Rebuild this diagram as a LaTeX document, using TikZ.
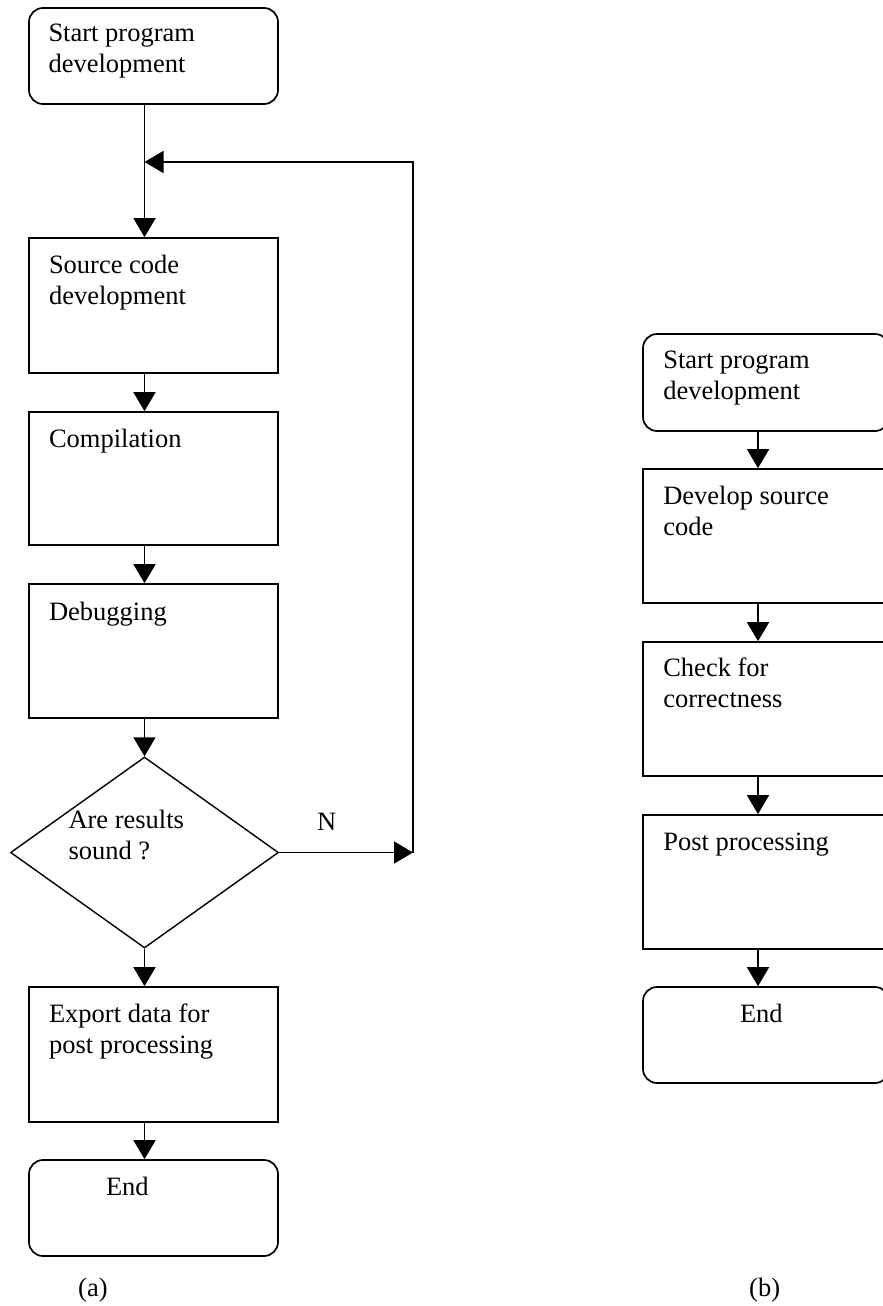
\documentclass[tikz,border=0pt]{standalone}
\usepackage{fontspec}
\setmainfont{Liberation Serif}
\usetikzlibrary{shapes.geometric,arrows.meta}
% zero-size text anchor: #1 = shift right, #2 = raise of first baseline, #3 = lines
\newcommand\boxtxt[3]{\rlap{\hspace*{#1}\raisebox{#2}[0pt][0pt]{\begin{tabular}[t]{@{}l@{}}#3\end{tabular}}}}
\begin{document}
\begin{tikzpicture}[x=1pt,y=-1pt,
  font=\fontsize{26.5}{31}\selectfont,
  box/.style={draw, line width=1.7pt, rectangle, inner sep=0pt},
  rbox/.style={box, rounded corners=14pt},
  dec/.style={draw, line width=1.4pt, diamond, inner sep=0pt},
  arr/.style={line width=1.7pt, -{Triangle[length=19pt,width=22pt]}},
  lbl/.style={inner sep=0pt, anchor=base west}]
\useasboundingbox (0,0) rectangle (883,1306);

% ---------- (a) ----------
\node[rbox, minimum width=249pt, minimum height=96pt] (s1) at (153.5,56)
  {\boxtxt{-105pt}{14pt}{Start program\\development}};
\node[box, minimum width=249pt, minimum height=135pt] (src) at (153.5,305.5)
  {\boxtxt{-104.5pt}{32.5pt}{Source code\\development}};
\node[box, minimum width=249pt, minimum height=133pt] (comp) at (153.5,478.5)
  {\boxtxt{-104.5pt}{31.5pt}{Compilation}};
\node[box, minimum width=249pt, minimum height=134pt] (dbg) at (153.5,651)
  {\boxtxt{-104.5pt}{31pt}{Debugging}};
\node[dec, minimum width=268pt, minimum height=191pt] (dia) at (144.5,852.5)
  {\boxtxt{-76pt}{24.5pt}{Are results\\sound ?}};
\node[box, minimum width=249pt, minimum height=135pt] (exp) at (153.5,1054.5)
  {\boxtxt{-104.5pt}{32.5pt}{Export data for\\post processing}};
\node[rbox, minimum width=249pt, minimum height=96pt] (e1) at (153.5,1208)
  {\boxtxt{-47.5pt}{13pt}{End}};

\coordinate (axL) at (144.5,0);
\coordinate (join) at (144.5,162);
\coordinate (fb) at (413,162);
\coordinate (nc) at (dia.east -| fb);

\draw[arr] (s1.south -| axL) -- (src.north -| axL);
\draw[arr] (src.south -| axL) -- (comp.north -| axL);
\draw[arr] (comp.south -| axL) -- (dbg.north -| axL);
\draw[arr] (dbg.south -| axL) -- (dia.north);
\draw[arr] (dia.south) -- (exp.north -| axL);
\draw[arr] (exp.south -| axL) -- (e1.north -| axL);
\draw[arr] (dia.east) -- (nc);
\draw[arr] (nc) -- (fb) -- (join);
\node[lbl] (N) at (317,830) {N};
\node[lbl] (la) at (78,1296) {(a)};

% ---------- (b) ----------
\node[rbox, minimum width=246pt, minimum height=97pt] (rs) at (766,382.5)
  {\boxtxt{-102.7pt}{14.5pt}{Start program\\development}};
\node[box, minimum width=246pt, minimum height=134pt] (rd) at (766,536)
  {\boxtxt{-102.7pt}{32pt}{Develop source\\code}};
\node[box, minimum width=246pt, minimum height=134pt] (rc) at (766,709)
  {\boxtxt{-102.7pt}{33pt}{Check for\\correctness}};
\node[box, minimum width=246pt, minimum height=134pt] (rp) at (766,882)
  {\boxtxt{-102.7pt}{32pt}{Post processing}};
\node[rbox, minimum width=246pt, minimum height=96pt] (re) at (766,1035)
  {\boxtxt{-26pt}{13pt}{End}};

\coordinate (axR) at (758,0);
\draw[arr] (rs.south -| axR) -- (rd.north -| axR);
\draw[arr] (rd.south -| axR) -- (rc.north -| axR);
\draw[arr] (rc.south -| axR) -- (rp.north -| axR);
\draw[arr] (rp.south -| axR) -- (re.north -| axR);
\node[lbl] (lb) at (749,1296) {(b)};
\end{tikzpicture}
\end{document}
